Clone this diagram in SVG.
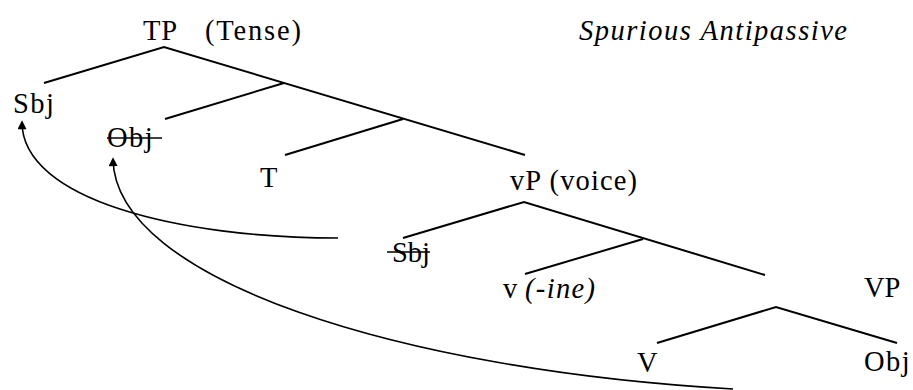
<svg xmlns="http://www.w3.org/2000/svg" width="913" height="390" viewBox="0 0 913 390">
<defs>
<style>
text{font-family:"Liberation Serif",serif;font-size:28.5px;fill:#000}
.it{font-style:italic}
.ls{letter-spacing:1.5px}
.br{stroke:#000;stroke-width:2;fill:none}
.mv{stroke:#000;stroke-width:1.6;fill:none;marker-end:url(#ah)}
.st{stroke:#000;stroke-width:1.6}
</style>
<marker id="ah" viewBox="0 0 10 10" refX="8" refY="5" markerWidth="10" markerHeight="9" markerUnits="userSpaceOnUse" orient="auto">
<path d="M0,0 L10,5 L0,10 z" fill="#000"/>
</marker>
</defs>
<rect width="913" height="390" fill="#fff"/>
<g id="branches">
<path class="br" d="M44,83 L164,47 L525,155"/>
<path class="br" d="M165,119 L284,83"/>
<path class="br" d="M285,155 L403,119"/>
<path class="br" d="M403,238 L524,202 L765,275"/>
<path class="br" d="M525,274 L643,239"/>
<path class="br" d="M657,343 L776,307 L897,343"/>
</g>
<g id="connectors">
<path class="mv" d="M338,238 C180,238 22,200 22,122"/>
<path class="mv" d="M733,389 C400,370 115,280 113,159"/>
</g>
<g id="TP"><text x="143" y="40" textLength="34">TP</text><text x="205" y="40" textLength="96">(Tense)</text></g>
<g id="title"><text class="it" x="579" y="40" textLength="268">Spurious Antipassive</text></g>
<g id="Sbj"><text class="ls" x="13" y="113">Sbj</text></g>
<g id="Obj-trace"><text class="ls" x="107" y="147">Obj</text><line class="st" x1="107" y1="138" x2="162" y2="138"/></g>
<g id="T"><text x="260" y="187">T</text></g>
<g id="vP"><text x="510" y="190" textLength="127">vP (voice)</text></g>
<g id="Sbj-trace"><text x="392" y="262">Sbj</text><line class="st" x1="387" y1="252" x2="430" y2="252"/></g>
<g id="v"><text x="503" y="298">v</text><text class="it" x="525" y="298" textLength="70">(-ine)</text></g>
<g id="VP"><text x="864" y="297">VP</text></g>
<g id="V"><text x="637" y="372">V</text></g>
<g id="Obj"><text class="ls" x="864" y="371">Obj</text></g>
</svg>
